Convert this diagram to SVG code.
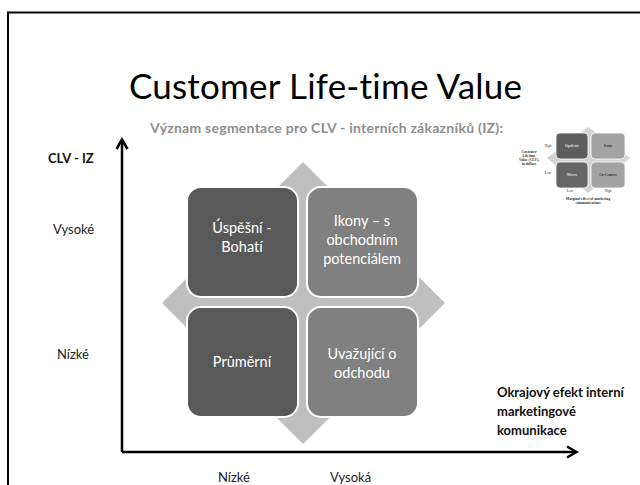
<svg xmlns="http://www.w3.org/2000/svg" width="640" height="485" viewBox="0 0 640 485">
<style>
.t{font-family:Lato,"Open Sans","Liberation Sans",sans-serif;font-variant-ligatures:none}
.box{stroke:#fff;stroke-width:2}
.dk{fill:#595959}
.md{fill:#808080}
.bt{fill:#fff;font-size:14.5px;text-anchor:middle}
.lab{fill:#222;font-size:13px}
.blab{fill:#111;font-size:13px;font-weight:bold}
.ax{stroke:#000;stroke-width:2.5;fill:none}
.mini{font-family:"Liberation Serif",serif;font-size:3.6px;font-weight:bold;fill:#333;text-anchor:middle}
</style>
<rect x="0" y="0" width="640" height="485" fill="#fff"/>
<g id="frame">
<path d="M8,485 V12.5 H640" fill="none" stroke="#000" stroke-width="2"/>
</g>
<g id="title">
<text class="t" x="129" y="99" font-size="35" textLength="393" lengthAdjust="spacing" fill="#000">Customer Life-time Value</text>
</g>
<g id="subtitle">
<text class="t" x="150" y="133" font-size="14" font-weight="bold" textLength="353" lengthAdjust="spacing" fill="#8e8e8e">Význam segmentace pro CLV - interních zákazníků (IZ):</text>
</g>
<g id="diamond">
<polygon points="303,162 445,303 303,444 162,303" fill="#bfbfbf"/>
</g>
<g id="node-uspesni">
<rect class="box dk" x="187" y="187" width="111" height="110" rx="14"/>
<text class="t bt" x="242" y="233">Úspěšní -</text>
<text class="t bt" x="242" y="252">Bohatí</text>
</g>
<g id="node-ikony">
<rect class="box md" x="307" y="187" width="111" height="110" rx="14"/>
<text class="t bt" x="362" y="226">Ikony – s</text>
<text class="t bt" x="362" y="245">obchodním</text>
<text class="t bt" x="362" y="264">potenciálem</text>
</g>
<g id="node-prumerni">
<rect class="box dk" x="187" y="307" width="111" height="110" rx="14"/>
<text class="t bt" x="242" y="367">Průměrní</text>
</g>
<g id="node-uvazujici">
<rect class="box md" x="307" y="307" width="111" height="110" rx="14"/>
<text class="t bt" x="362" y="359">Uvažující o</text>
<text class="t bt" x="362" y="378">odchodu</text>
</g>
<g id="connectors">
<path class="ax" d="M122,452 V140"/>
<path class="ax" d="M122,452 H576"/>
<path class="ax" d="M116.5,149 L122,139.5 L127.5,149"/>
<path class="ax" d="M567,446.5 L576.5,452 L567,457.5"/>
</g>
<g id="axis-labels">
<text class="t blab" x="48" y="163">CLV - IZ</text>
<text class="t lab" x="53" y="234">Vysoké</text>
<text class="t lab" x="57" y="359">Nízké</text>
<text class="t lab" x="218" y="482">Nízké</text>
<text class="t lab" x="330" y="482">Vysoká</text>
<text class="t blab" x="497" y="397">Okrajový efekt interní</text>
<text class="t blab" x="497" y="416">marketingové</text>
<text class="t blab" x="497" y="435">komunikace</text>
</g>
<g id="inset">
<polygon points="588,127 630,158 588,193 547,158" fill="#d4d4d4"/>
<rect x="556" y="133" width="32" height="26" rx="4" fill="#5e5e5e" stroke="#fff" stroke-width="0.8"/>
<rect x="591" y="133" width="34" height="26" rx="4" fill="#a3a3a3" stroke="#fff" stroke-width="0.8"/>
<rect x="556" y="162" width="32" height="26" rx="4" fill="#666" stroke="#fff" stroke-width="0.8"/>
<rect x="591" y="162" width="34" height="26" rx="4" fill="#a3a3a3" stroke="#fff" stroke-width="0.8"/>
<text class="mini" x="572" y="147" style="fill:#ddd">Opulents</text>
<text class="mini" x="608" y="147">Icons</text>
<text class="mini" x="572" y="176" style="fill:#ddd">Misers</text>
<text class="mini" x="608" y="176">Co-Centers</text>
<text class="mini" x="548" y="147" style="font-weight:normal">High</text>
<text class="mini" x="548" y="174" style="font-weight:normal">Low</text>
<text class="mini" x="570" y="192" style="font-weight:normal">Low</text>
<text class="mini" x="608" y="192" style="font-weight:normal">High</text>
<text class="mini" x="529" y="153">Customer</text>
<text class="mini" x="529" y="157">Lifetime</text>
<text class="mini" x="529" y="161">Value (CLV),</text>
<text class="mini" x="529" y="165">in dollars</text>
<text class="mini" x="588" y="200">Marginal effect of marketing</text>
<text class="mini" x="588" y="204">communications</text>
</g>
</svg>
